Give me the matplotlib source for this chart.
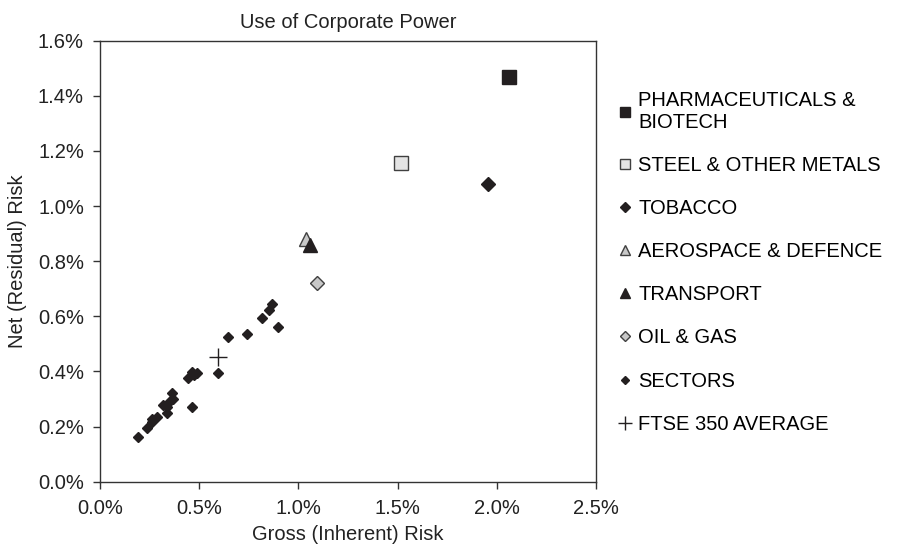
import matplotlib
matplotlib.use("Agg")
import matplotlib.pyplot as plt
from matplotlib.ticker import FuncFormatter

plt.rcParams['font.family'] = ['Liberation Sans', 'DejaVu Sans']

# highlighted sectors: (gross %, net %)
pharmaX, pharmaY = [2.06], [1.47]
steelX, steelY = [1.516], [1.156]
tobaccoX, tobaccoY = [1.956], [1.080]
aeroX, aeroY = [1.038], [0.880]
transportX, transportY = [1.058], [0.859]
oilX, oilY = [1.092], [0.720]
ftseX, ftseY = [0.593], [0.454]

# remaining sectors
sectorX = [0.193, 0.235, 0.264, 0.264, 0.286, 0.319, 0.336, 0.339, 0.353, 0.361, 0.366,
           0.442, 0.462, 0.474, 0.487, 0.465, 0.593, 0.647, 0.739, 0.815, 0.852, 0.865, 0.896]
sectorY = [0.163, 0.194, 0.226, 0.218, 0.234, 0.278, 0.248, 0.272, 0.291, 0.321, 0.299,
           0.375, 0.399, 0.387, 0.393, 0.272, 0.395, 0.524, 0.536, 0.593, 0.623, 0.645, 0.560]

xTicks = [0.0, 0.5, 1.0, 1.5, 2.0, 2.5]
yTicks = [0.0, 0.2, 0.4, 0.6, 0.8, 1.0, 1.2, 1.4, 1.6]

fs = 14.5
fig = plt.figure(figsize=(9.03, 5.47), dpi=100)
ax = fig.add_axes([0.1107, 0.1194, 0.5493, 0.8062])

edge = '#231f20'
ax.plot(pharmaX, pharmaY, ls='none', marker='s', ms=9.5, mfc=edge, mec=edge, label='PHARMACEUTICALS &\nBIOTECH')
ax.plot(steelX, steelY, ls='none', marker='s', ms=9.5, mfc='#e4e4e4', mec='#404040', mew=1.0, label='STEEL & OTHER METALS')
ax.plot(tobaccoX, tobaccoY, ls='none', marker='D', ms=7, mfc=edge, mec=edge, label='TOBACCO')
ax.plot(aeroX, aeroY, ls='none', marker='^', ms=10, mfc='#c8c8c8', mec='#404040', mew=1.0, label='AEROSPACE & DEFENCE')
ax.plot(transportX, transportY, ls='none', marker='^', ms=10, mfc=edge, mec=edge, label='TRANSPORT')
ax.plot(oilX, oilY, ls='none', marker='D', ms=7, mfc='#c8c8c8', mec='#404040', mew=1.0, label='OIL & GAS')
ax.plot(sectorX, sectorY, ls='none', marker='D', ms=5, mfc=edge, mec=edge, label='SECTORS')
ax.plot(ftseX, ftseY, ls='none', marker='+', ms=13, mec=edge, mew=1.0, label='FTSE 350 AVERAGE')

ax.set_xlim(0, 2.5)
ax.set_ylim(0, 1.6)
ax.set_xticks(xTicks)
ax.set_yticks(yTicks)
ax.xaxis.set_major_formatter(FuncFormatter(lambda v, p: '%.1f%%' % v))
ax.yaxis.set_major_formatter(FuncFormatter(lambda v, p: '%.1f%%' % v))
ax.tick_params(labelsize=fs, length=5, width=1, color='#333333', labelcolor='#222222')
ax.tick_params(axis='x', pad=7.5)
ax.tick_params(axis='y', pad=6.5)
for spine in ax.spines.values():
    spine.set_color('#333333')
    spine.set_linewidth(1.0)

ax.set_xlabel('Gross (Inherent) Risk', fontsize=fs, color='#222222', labelpad=5)
ax.set_ylabel('Net (Residual) Risk', fontsize=fs, color='#222222', labelpad=8)
ax.set_title('Use of Corporate Power', fontsize=fs, color='#222222', pad=9)

ax.legend(loc='upper left', bbox_to_anchor=(1.03, 0.905), frameon=False, fontsize=fs,
          handlelength=0.6, handletextpad=0.35, labelspacing=1.2, borderaxespad=0,
          markerscale=0.75)

fig.savefig('out.png', dpi=100)
